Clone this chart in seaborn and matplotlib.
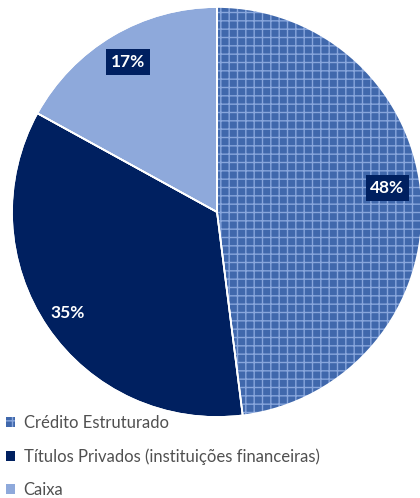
import numpy as np
import matplotlib
matplotlib.use("Agg")
import matplotlib.pyplot as plt
import seaborn as sns
from matplotlib.patches import Patch

categories = ["Crédito Estruturado", "Títulos Privados (instituições financeiras)", "Caixa"]
values = [48, 35, 17]
labels = ["48%", "35%", "17%"]

sns.set_theme(style="white")
plt.rcParams["font.family"] = ["Lato", "DejaVu Sans"]
plt.rcParams["hatch.linewidth"] = 1.0

navy = "#002060"
light = "#8EA9DB"
tex_base = "#4068AC"
tex_hatch = "#88A6DC"
colors = [tex_base, navy, light]

fig = plt.figure(figsize=(4.20, 4.98), dpi=100)
ax = fig.add_axes([12 / 420, 81 / 498, 410 / 420, 410 / 498])

wedges, _ = ax.pie(values, colors=colors, startangle=90, counterclock=False,
                   radius=1.0, wedgeprops=dict(edgecolor="white", linewidth=1.2))
wedges[0].set_hatch("++")
wedges[0].set_edgecolor(tex_hatch)
wedges[0].set_linewidth(0)
ax.pie(values, colors=["none"] * 3, startangle=90, counterclock=False, radius=1.0,
       wedgeprops=dict(edgecolor="white", linewidth=1.2, fill=False))
ax.set_xlim(-1, 1)
ax.set_ylim(-1, 1)
ax.set_aspect("auto")
ax.axis("off")

label_r = [0.84, 0.88, 0.85]
boxed = [True, False, True]
for w, lab, r, b in zip(wedges, labels, label_r, boxed):
    ang = np.deg2rad((w.theta1 + w.theta2) / 2)
    if lab == "48%":
        ang = np.deg2rad((w.theta1 + w.theta2) / 2 + 4.4)
    x, y = r * np.cos(ang), r * np.sin(ang)
    kw = dict(ha="center", va="center", color="white", fontsize=12.5, fontweight="bold")
    if b:
        kw["bbox"] = dict(boxstyle="square,pad=0.28", facecolor=navy, edgecolor="none")
    ax.text(x, y, lab, **kw)

handles = [Patch(facecolor=tex_base, edgecolor=tex_hatch, hatch="++", linewidth=0),
           Patch(facecolor=navy, edgecolor="none"),
           Patch(facecolor=light, edgecolor="none")]
leg = fig.legend(handles, categories, loc="upper left", bbox_to_anchor=(6 / 420, 1 - 415 / 498),
                 frameon=False, fontsize=12, borderpad=0, borderaxespad=0,
                 handlelength=0.55, handleheight=0.55, handletextpad=0.5, labelspacing=1.02)
for t in leg.get_texts():
    t.set_color("#505050")

fig.savefig("out.png", dpi=100)
